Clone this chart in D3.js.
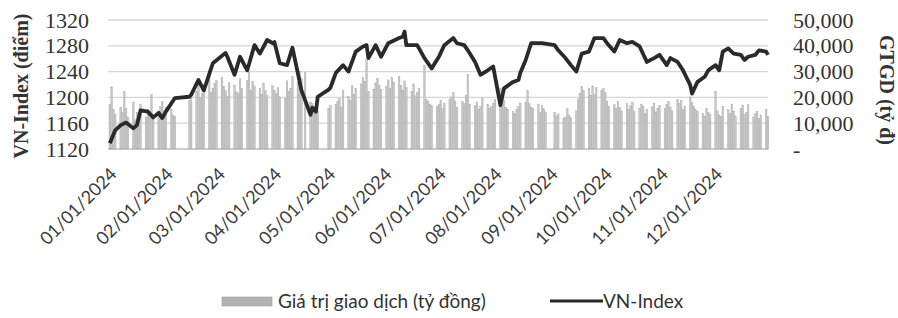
<!DOCTYPE html>
<html lang="vi">
  <head>
    <meta charset="utf-8">
    <title>VN-Index 2024</title>
    <script src="https://d3js.org/d3.v7.js"></script>
    <style>
      body { margin: 0; background: #fff; }
      .serif { font-family: "Liberation Serif", "DejaVu Serif", serif; }
      .sans { font-family: Lato, "Open Sans", sans-serif; }
    </style>
  </head>
  <body>
  <script>

// VN-Index close (diem)
var idxDates = ["2024-01-02","2024-01-05","2024-01-08","2024-01-11","2024-01-15","2024-01-17","2024-01-19",
  "2024-01-23","2024-01-26","2024-01-29","2024-01-31","2024-02-02","2024-02-07","2024-02-15","2024-02-16",
  "2024-02-20","2024-02-23","2024-02-28","2024-03-06","2024-03-07","2024-03-11","2024-03-14","2024-03-18",
  "2024-03-22","2024-03-25","2024-03-29","2024-04-01","2024-04-02","2024-04-05","2024-04-09","2024-04-12",
  "2024-04-17","2024-04-22","2024-04-23","2024-04-25","2024-04-26","2024-05-02","2024-05-03","2024-05-06",
  "2024-05-10","2024-05-13","2024-05-17","2024-05-21","2024-05-23","2024-05-24","2024-05-28","2024-05-31",
  "2024-06-04","2024-06-10","2024-06-12","2024-06-13","2024-06-14","2024-06-20","2024-06-24","2024-06-28",
  "2024-07-02","2024-07-05","2024-07-10","2024-07-12","2024-07-16","2024-07-18","2024-07-22","2024-07-25",
  "2024-07-29","2024-08-01","2024-08-05","2024-08-07","2024-08-12","2024-08-15","2024-08-16","2024-08-19",
  "2024-08-22","2024-08-26","2024-08-28","2024-09-04","2024-09-06","2024-09-10","2024-09-13","2024-09-16",
  "2024-09-19","2024-09-23","2024-09-26","2024-10-01","2024-10-03","2024-10-07","2024-10-10","2024-10-14",
  "2024-10-17","2024-10-21","2024-10-25","2024-10-29","2024-11-01","2024-11-05","2024-11-07","2024-11-11",
  "2024-11-14","2024-11-18","2024-11-19","2024-11-22","2024-11-26","2024-11-28","2024-12-02","2024-12-04",
  "2024-12-06","2024-12-09","2024-12-12","2024-12-16","2024-12-18","2024-12-20","2024-12-24","2024-12-26",
  "2024-12-30","2024-12-31"];
var idxValues = [1129,1149,1157,1161,1152,1157,1180,
  1178,1169,1176,1168,1178,1199,1201,1204,
  1227,1211,1253,1269,1263,1235,1263,1242,
  1281,1268,1289,1284,1286,1253,1250,1277,
  1211,1173,1184,1178,1201,1212,1215,1238,
  1250,1240,1271,1279,1281,1261,1281,1263,
  1284,1292,1294,1302,1281,1281,1261,1245,
  1263,1281,1292,1284,1281,1273,1255,1235,
  1242,1248,1188,1214,1224,1227,1238,1258,
  1284,1284,1284,1281,1273,1261,1250,1240,
  1268,1271,1292,1292,1284,1271,1289,1284,
  1286,1279,1255,1261,1266,1250,1261,1255,
  1242,1219,1206,1224,1232,1242,1250,1242,
  1271,1276,1268,1266,1258,1263,1266,1273,
  1271,1266];

// Gia tri giao dich (ty dong), one value per trading day, by month
var volJan = [17200,24100,15300,13400,16200,14100,22300,15600,12400,18200,11300,14200,13600,17400,12200,15400,14300,21200,13100,12600,16400,18300];
var volFeb = [14800,16200,15500,13200,12600,18800,20500,22400,26800,19800,21500,24200,30500,21800,23600,25400];
var volMar = [26500,27800,24200,22600,20400,25800,24800,22200,21600,27200,23400,26600,29800,22800,26200,24400,23600,21200,25600,22600,20800];
var volApr = [24600,22800,21400,23800,20200,19600,26400,22200,23600,28200,25800,30200,27400,29600,18200,17600,16400,15200,14800];
var volMay = [15600,16800,17200,18400,19600,16200,22800,20400,18800,24600,21200,23400,25200,27800,26200,34600,22400,23200,25600,27400,24800,23000];
var volJun = [24200,26800,23400,27600,25800,28200,24600,22800,26400,23800,22400,25200,20600,21800,23600,32400,19200,18600,17400,16800];
var volJul = [16400,17200,18800,15600,17800,19400,20200,21800,18600,16200,18400,17600,20800,28800,17400,16800,18200,15400,16600,19800,17200,15800,16400];
var volAug = [17800,19200,23600,20400,18800,16200,15400,14600,13800,15200,16400,17800,18200,22800,17600,16200,15800,17400,14200,16800,15600,14400];
var volSep = [14200,12800,13600,11800,12400,15600,13200,12200,14800,19400,21600,24200,22800,23600,20800,24400,21200,23800,22600];
var volOct = [23400,21800,18600,16400,17200,15800,18400,16200,14800,17600,15400,16800,18200,14600,15800,17400,16600,13800,15200,16400,17800,14400,15600];
var volNov = [16800,15600,17200,18400,16200,14800,19200,17600,18800,15400,16600,20200,18200,16400,15200,14600,13800,12600,15800,14200,13400];
var volDec = [22400,14800,13200,12600,16400,15200,13800,17400,14600,12800,15600,16800,13400,14200,17200,12400,13800,14600,11800,13200,15400,12600];

// market holidays (no trading)
var holidays = ["2024-01-01","2024-02-08","2024-02-09","2024-02-12","2024-02-13","2024-02-14",
  "2024-04-18","2024-04-29","2024-04-30","2024-05-01","2024-09-02","2024-09-03"];

var leftTicks = [1120, 1160, 1200, 1240, 1280, 1320];
var rightTicks = [0, 10000, 20000, 30000, 40000, 50000];
var legendLabels = ["Giá trị giao dịch (tỷ đồng)", "VN-Index"];

var parse = d3.timeParse("%Y-%m-%d");
var fmtDay = d3.timeFormat("%Y-%m-%d");

var lineData = idxDates.map((d, i) => ({date: parse(d), value: idxValues[i]}));

// trading days: weekdays that are not holidays
var allVol = [].concat(volJan, volFeb, volMar, volApr, volMay, volJun, volJul, volAug, volSep, volOct, volNov, volDec);
var tradingDays = d3.timeDays(new Date(2024, 0, 1), new Date(2025, 0, 1))
  .filter(d => d.getDay() != 0 && d.getDay() != 6 && holidays.indexOf(fmtDay(d)) < 0);
var barData = tradingDays.map((d, i) => ({date: d, value: allVol[i]}));

var w = 898;
var h = 318;
var plot = {left: 108, right: 768, top: 20, bottom: 149};

var svg = d3.select("body")
  .append("svg")
    .attr("width", w)
    .attr("height", h);

var xScale = d3.scaleTime()
    .domain([new Date(2024, 0, 1), new Date(2024, 11, 31)])
    .range([plot.left, plot.right]);

var yLeft = d3.scaleLinear()
    .domain([1120, 1320])
    .range([plot.bottom, plot.top]);

var yRight = d3.scaleLinear()
    .domain([0, 50000])
    .range([plot.bottom, plot.top]);

// gridlines
svg.append("g")
  .selectAll("line")
  .data(leftTicks)
  .enter().append("line")
    .attr("x1", plot.left)
    .attr("x2", plot.right)
    .attr("y1", d => yLeft(d))
    .attr("y2", d => yLeft(d))
    .attr("stroke", d => d == 1120 ? "#bdbdbd" : "#d6d6d6")
    .attr("stroke-width", 1.3);

// volume bars
svg.append("g")
    .attr("id", "bars")
  .selectAll("rect")
  .data(barData)
  .enter().append("rect")
    .attr("x", d => xScale(d.date) - 0.8)
    .attr("y", d => yRight(d.value))
    .attr("width", 1.6)
    .attr("height", d => plot.bottom - yRight(d.value))
    .attr("fill", "#c8c8c8")
    .attr("stroke", "#a8a8a8")
    .attr("stroke-width", 0.4);

// VN-Index line
var line = d3.line()
    .x(d => xScale(d.date))
    .y(d => yLeft(d.value));

svg.append("path")
    .datum(lineData)
    .attr("d", line)
    .attr("fill", "none")
    .attr("stroke", "#2a2a2a")
    .attr("stroke-width", 3.8)
    .attr("stroke-linejoin", "round");

// left axis
var leftAxis = d3.axisLeft(yLeft)
    .tickValues(leftTicks)
    .tickSize(0)
    .tickPadding(0)
    .tickFormat(d3.format("d"));

svg.append("g")
    .attr("class", "serif")
    .attr("transform", "translate(89,0)")
    .call(leftAxis)
    .call(g => g.select(".domain").remove())
    .selectAll("text")
      .attr("font-size", 22)
      .attr("fill", "#333");

// right axis
var rightAxis = d3.axisRight(yRight)
    .tickValues(rightTicks)
    .tickSize(0)
    .tickPadding(0)
    .tickFormat(d => d == 0 ? "-" : d3.format(",")(d));

svg.append("g")
    .attr("class", "serif")
    .attr("transform", "translate(793,0)")
    .call(rightAxis)
    .call(g => g.select(".domain").remove())
    .selectAll("text")
      .attr("font-size", 22)
      .attr("fill", "#333");

// x axis, month starts
var xAxis = d3.axisBottom(xScale)
    .ticks(d3.timeMonth.every(1))
    .tickSize(0)
    .tickPadding(0)
    .tickFormat(d3.timeFormat("%m/%d/%Y"));

svg.append("g")
    .attr("class", "sans")
    .attr("transform", `translate(0, ${plot.bottom})`)
    .call(xAxis)
    .call(g => g.select(".domain").remove())
    .selectAll("text")
      .attr("font-size", 18)
      .attr("fill", "#3c3c3c")
      .attr("text-anchor", "end")
      .attr("transform", "translate(5,22) rotate(-45)")
      .attr("dy", "0.35em");

// axis titles
svg.append("text")
    .attr("class", "serif")
    .attr("transform", "translate(28,86) rotate(-90)")
    .attr("text-anchor", "middle")
    .attr("font-size", 20)
    .attr("font-weight", "bold")
    .attr("fill", "#333")
    .text("VN-Index (điểm)");

svg.append("text")
    .attr("class", "serif")
    .attr("transform", "translate(880,90) rotate(90)")
    .attr("text-anchor", "middle")
    .attr("font-size", 20)
    .attr("font-weight", "bold")
    .attr("fill", "#333")
    .text("GTGD (tỷ đ)");

// legend
var legend = svg.append("g").attr("class", "sans");

legend.append("rect")
    .attr("x", 222)
    .attr("y", 297)
    .attr("width", 50)
    .attr("height", 9)
    .attr("fill", "#b3b3b3")
    .attr("stroke", "#9a9a9a")
    .attr("stroke-width", 0.6);

legend.append("text")
    .attr("x", 278)
    .attr("y", 308)
    .attr("font-size", 19)
    .attr("fill", "#333")
    .text(legendLabels[0]);

legend.append("line")
    .attr("x1", 550)
    .attr("x2", 603)
    .attr("y1", 301)
    .attr("y2", 301)
    .attr("stroke", "#262626")
    .attr("stroke-width", 3);

legend.append("text")
    .attr("x", 603)
    .attr("y", 308)
    .attr("font-size", 19)
    .attr("fill", "#333")
    .text(legendLabels[1]);

  </script>
  </body>
</html>
